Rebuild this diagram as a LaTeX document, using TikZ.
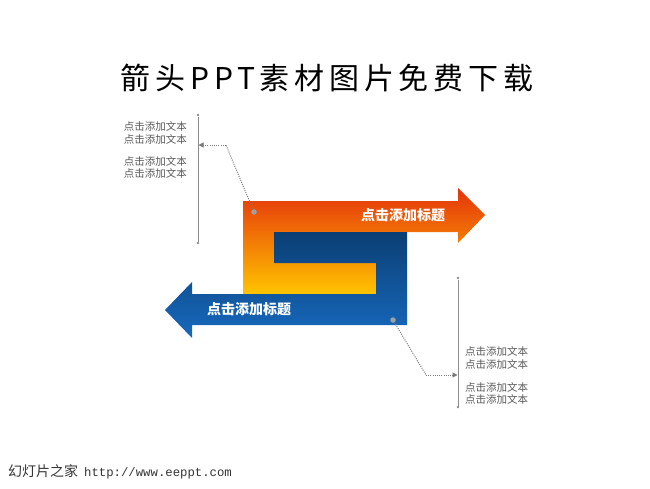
\documentclass[tikz,border=0pt]{standalone}
\usepackage{fontspec}
\setmainfont{Noto Sans CJK SC}
\newfontfamily\titlefont[LetterSpace=16]{Noto Sans CJK SC}
\setmonofont{Liberation Mono}
\usetikzlibrary{arrows.meta}
\definecolor{txtgray}{HTML}{595959}
\definecolor{linegray}{HTML}{8C8C8C}
\definecolor{leadgray}{HTML}{7A7A7A}
\definecolor{pingray}{HTML}{A0A0A0}
\definecolor{orangetop}{HTML}{E5320B}
\definecolor{orangebot}{HTML}{FFC400}
\definecolor{bluetop}{HTML}{0B3F74}
\definecolor{bluebot}{HTML}{1769BE}
\definecolor{foottxt}{HTML}{333333}
\begin{document}
\begin{tikzpicture}[x=1pt,y=-1pt,
  small/.style={font=\fontsize{10.5}{12}\selectfont, text=txtgray, inner sep=0pt},
  headtxt/.style={font=\fontsize{14}{16}\selectfont\bfseries, text=white, inner sep=0pt},
  guide/.style={draw=linegray, line width=0.8pt},
  lead/.style={draw=leadgray, line width=1pt, dash pattern=on 1pt off 1.2pt},
  leadtip/.style={lead, -{Triangle[length=5pt,width=5pt]}},
  enddot/.style={circle, fill=linegray, inner sep=0pt, minimum size=2.6pt},
  pin/.style={circle, fill=pingray, inner sep=0pt, minimum size=5.5pt}
]
\useasboundingbox (0,0) rectangle (650,488);

% title
\node[inner sep=0pt, text=black, font=\titlefont\fontsize{30}{34}\selectfont] (title) at (327,78) {箭头PPT素材图片免费下载};

% orange shape
\path[top color=orangetop, bottom color=orangebot]
  (243,201) -- (458,201) -- (458,188) -- (485,215) -- (458,243) -- (458,232)
  -- (274,232) -- (274,263) -- (376,263) -- (376,294) -- (243,294) -- cycle;
% blue shape
\path[top color=bluetop, bottom color=bluebot]
  (274,232) -- (407,232) -- (407,325) -- (192,325) -- (192,338) -- (165,310)
  -- (192,282) -- (192,294) -- (376,294) -- (376,263) -- (274,263) -- cycle;

\node[headtxt] (head1) at (403,215) {点击添加标题};
\node[headtxt] (head2) at (249,309) {点击添加标题};

% pins
\node[pin] (pin1) at (254,212) {};
\node[pin] (pin2) at (393,320) {};

% left callout
\node[enddot] (lt) at (198,115) {};
\node[enddot] (lb) at (198,243) {};
\draw[guide] (lt) -- (lb);
\coordinate (lbend) at (226,145);
\coordinate (lend) at (198.5,145);
\draw[lead] (pin1) -- (lbend);
\draw[leadtip] (lbend) -- (lend);
\node[small, anchor=east] (l1) at (187,126) {点击添加文本};
\node[small, anchor=east] (l2) at (187,139) {点击添加文本};
\node[small, anchor=east] (l3) at (187,161) {点击添加文本};
\node[small, anchor=east] (l4) at (187,173) {点击添加文本};

% right callout
\node[enddot] (rt) at (458,278) {};
\node[enddot] (rb) at (458,407) {};
\draw[guide] (rt) -- (rb);
\coordinate (rbend) at (426,375);
\coordinate (rend) at (457.5,375);
\draw[lead] (pin2) -- (rbend);
\draw[leadtip] (rbend) -- (rend);
\node[small, anchor=west] (r1) at (465,351) {点击添加文本};
\node[small, anchor=west] (r2) at (465,364) {点击添加文本};
\node[small, anchor=west] (r3) at (465,387) {点击添加文本};
\node[small, anchor=west] (r4) at (465,399) {点击添加文本};

% footer
\node[inner sep=0pt, anchor=west, text=foottxt] (foot) at (8,472)
  {\fontsize{14}{16}\selectfont 幻灯片之家\hspace{6pt}\ttfamily\fontsize{12.3}{14}\selectfont http://www.eeppt.com};
\end{tikzpicture}
\end{document}
